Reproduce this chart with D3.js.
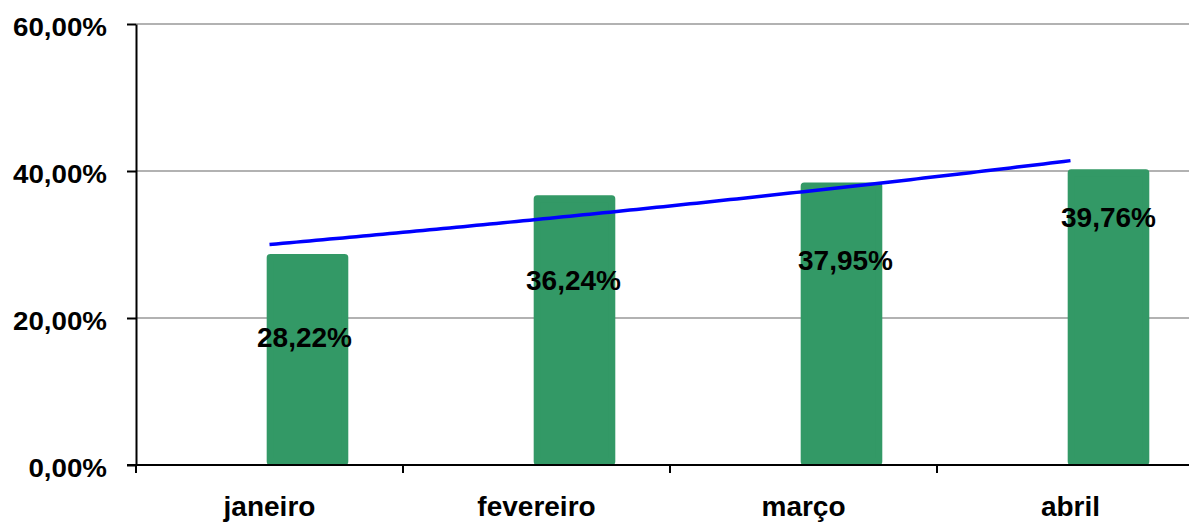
<!DOCTYPE html>
<html>
<head>
<meta charset="utf-8">
<script src="https://cdn.jsdelivr.net/npm/d3@7"></script>
<style>
  html, body { margin: 0; padding: 0; background: #fff; }
  svg { display: block; font-family: "Liberation Sans", Arial, Helvetica, sans-serif; }
</style>
</head>
<body>
<svg id="chart" width="1189" height="522"></svg>
<script>
// ---- data ----
const categories = ["janeiro", "fevereiro", "março", "abril"];
const values = [28.22, 36.24, 37.95, 39.76];
const valueLabels = ["28,22%", "36,24%", "37,95%", "39,76%"];
const yTicks = [0, 20, 40, 60];
const yTickLabels = ["0,00%", "20,00%", "40,00%", "60,00%"];

// ---- layout (pixels) ----
const W = 1189, H = 522;
const plotLeft = 136, plotTop = 24, plotBottom = 465;
const plotRight = 1204;          // plot runs past the right edge, as in the reference
const labelDx = [-3, -1, 4, 0];  // manual data-label nudges
const labelBaselineDy = [89, 91, 84, 54];

const svg = d3.select("#chart");

const x = d3.scaleBand().domain(categories).range([plotLeft, plotRight]).padding(0);
const y = d3.scaleLinear().domain([0, 60]).range([plotBottom, plotTop]);
const bw = x.bandwidth();
const barOffset = bw * 0.1423;
const barW = bw * 0.2794;
const strokeW = 7;
const green = "#339966";

// gridlines
svg.append("g").selectAll("line")
  .data(yTicks.filter(d => d > 0))
  .join("line")
  .attr("x1", plotLeft).attr("x2", W)
  .attr("y1", d => y(d)).attr("y2", d => y(d))
  .attr("stroke", "#999").attr("stroke-width", 1.5);

// bars
const barCenter = c => x(c) + bw / 2 + barOffset;
svg.append("g").selectAll("rect")
  .data(categories)
  .join("rect")
  .attr("x", c => barCenter(c) - barW / 2)
  .attr("width", barW)
  .attr("y", (c, i) => y(values[i]))
  .attr("height", (c, i) => y(0) - y(values[i]) - strokeW / 2)
  .attr("fill", green)
  .attr("stroke", green)
  .attr("stroke-width", strokeW)
  .attr("stroke-linejoin", "round");

// exponential trendline (fit of the series, as the spreadsheet does)
const n = values.length;
const xs = d3.range(1, n + 1);
const ly = values.map(v => Math.log(v));
const mx = d3.mean(xs), my = d3.mean(ly);
const b = d3.sum(xs, (xv, i) => (xv - mx) * (ly[i] - my)) / d3.sum(xs, xv => (xv - mx) ** 2);
const a = my - b * mx;
const x0 = x(categories[0]) + bw / 2;
const trendPts = d3.range(0, 121).map(k => {
  const t = 1 + (n - 1) * k / 120;
  return [x0 + (t - 1) * x.step(), y(Math.exp(a + b * t))];
});
svg.append("path")
  .attr("d", d3.line()(trendPts))
  .attr("fill", "none")
  .attr("stroke", "#0000FF")
  .attr("stroke-width", 3.5);

// data labels
svg.append("g").selectAll("text")
  .data(categories)
  .join("text")
  .attr("x", (c, i) => barCenter(c) + labelDx[i])
  .attr("y", (c, i) => y(values[i]) + labelBaselineDy[i])
  .attr("text-anchor", "middle")
  .attr("font-size", 28)
  .attr("font-weight", "bold")
  .attr("fill", "#000")
  .text((c, i) => valueLabels[i]);

// y axis
const yAxis = svg.append("g")
  .attr("transform", `translate(${plotLeft},0)`)
  .call(d3.axisLeft(y).tickValues(yTicks).tickSize(9).tickSizeOuter(0)
    .tickFormat((d, i) => yTickLabels[i]));
yAxis.select(".domain").attr("stroke", "#000").attr("stroke-width", 2);
yAxis.selectAll(".tick line").attr("stroke", "#000").attr("stroke-width", 2);
yAxis.selectAll(".tick text")
  .attr("x", null).attr("dy", null)
  .attr("transform", "translate(-29,11) scale(1.087,1)")
  .attr("text-anchor", "end")
  .attr("font-size", 25.5)
  .attr("font-weight", "bold")
  .attr("font-family", "'Liberation Sans', Arial, sans-serif")
  .attr("fill", "#000");

// x axis
const xAxis = svg.append("g")
  .attr("transform", `translate(0,${plotBottom})`)
  .call(d3.axisBottom(x).tickSize(0).tickSizeOuter(0));
xAxis.select(".domain").remove();
xAxis.append("line")
  .attr("x1", plotLeft - 9).attr("x2", W)
  .attr("y1", 0).attr("y2", 0)
  .attr("stroke", "#000").attr("stroke-width", 2);
xAxis.selectAll(".tick line").remove();
xAxis.selectAll(".sep")
  .data(categories)
  .join("line")
  .attr("class", "sep")
  .attr("x1", c => x(c)).attr("x2", c => x(c))
  .attr("y1", 0).attr("y2", 8)
  .attr("stroke", "#000").attr("stroke-width", 2);
xAxis.selectAll(".tick text")
  .attr("y", 51).attr("dy", null)
  .attr("font-size", 28)
  .attr("font-weight", "bold")
  .attr("font-family", "'Liberation Sans', Arial, sans-serif")
  .attr("fill", "#000");
</script>
</body>
</html>
